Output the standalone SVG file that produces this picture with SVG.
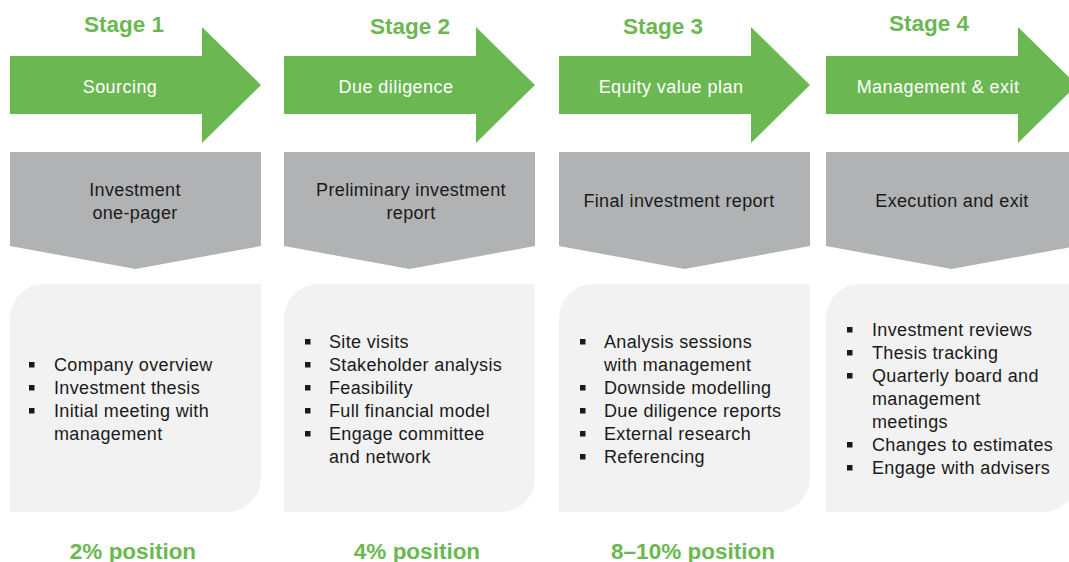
<svg xmlns="http://www.w3.org/2000/svg" width="1069" height="562" viewBox="0 0 1069 562">
<defs>
<style>
.arrow{fill:#6BB852}
.tab{fill:#B1B2B4}
.box{fill:#F2F2F2}
.stage{font-family:"Liberation Sans",Arial,sans-serif;font-weight:bold;font-size:22.5px;fill:#6BB852;text-anchor:middle}
.alab{font-family:"Liberation Sans",Arial,sans-serif;font-size:18px;letter-spacing:0.45px;fill:#FFFFFF;text-anchor:middle}
.tlab{font-family:"Liberation Sans",Arial,sans-serif;font-size:18px;letter-spacing:0.35px;fill:#1A1A1A;text-anchor:middle}
.item{font-family:"Liberation Sans",Arial,sans-serif;font-size:18px;letter-spacing:0.35px;fill:#1A1A1A}
.blt{fill:#1A1A1A}
.pos{font-family:"Liberation Sans",Arial,sans-serif;font-weight:bold;font-size:22.5px;fill:#6BB852;text-anchor:middle}
</style>
<path id="arr" d="M0,56 H192 V27 L251,85 L192,143 V114 H0 Z"/>
<path id="tabshape" d="M0,152 H251 V246 L125.5,269 L0,246 Z"/>
<path id="boxshape" d="M34,284 H251 V478 A34,34 0 0 1 217,512 H0 V318 A34,34 0 0 1 34,284 Z"/>
<rect id="sq" width="5.5" height="5.5"/>
</defs>

<g id="stage1" transform="translate(10,0)">
<use href="#arr" class="arrow"/>
<use href="#tabshape" class="tab"/>
<use href="#boxshape" class="box"/>
</g>
<g id="stage2" transform="translate(284,0)">
<use href="#arr" class="arrow"/>
<use href="#tabshape" class="tab"/>
<use href="#boxshape" class="box"/>
</g>
<g id="stage3" transform="translate(559,0)">
<use href="#arr" class="arrow"/>
<use href="#tabshape" class="tab"/>
<use href="#boxshape" class="box"/>
</g>
<g id="stage4" transform="translate(826,0)">
<use href="#arr" class="arrow"/>
<use href="#tabshape" class="tab"/>
<use href="#boxshape" class="box"/>
</g>

<g id="labels-stage">
<text class="stage" x="124" y="32">Stage 1</text>
<text class="stage" x="410" y="34">Stage 2</text>
<text class="stage" x="663" y="34">Stage 3</text>
<text class="stage" x="929" y="31">Stage 4</text>
</g>

<g id="labels-arrow">
<text class="alab" x="120" y="93">Sourcing</text>
<text class="alab" x="396" y="93">Due diligence</text>
<text class="alab" x="671" y="93">Equity value plan</text>
<text class="alab" x="938" y="93">Management &amp; exit</text>
</g>

<g id="labels-tab">
<text class="tlab" x="135" y="196">Investment</text>
<text class="tlab" x="135" y="219">one-pager</text>
<text class="tlab" x="411" y="196">Preliminary investment</text>
<text class="tlab" x="411" y="219">report</text>
<text class="tlab" x="679" y="207">Final investment report</text>
<text class="tlab" x="952" y="207">Execution and exit</text>
</g>

<g id="list1">
<use href="#sq" class="blt" x="29" y="362"/>
<use href="#sq" class="blt" x="29" y="385"/>
<use href="#sq" class="blt" x="29" y="408"/>
<text class="item" x="54" y="371">Company overview</text>
<text class="item" x="54" y="394">Investment thesis</text>
<text class="item" x="54" y="417">Initial meeting with</text>
<text class="item" x="54" y="440">management</text>
</g>

<g id="list2">
<use href="#sq" class="blt" x="305" y="339"/>
<use href="#sq" class="blt" x="305" y="362"/>
<use href="#sq" class="blt" x="305" y="385"/>
<use href="#sq" class="blt" x="305" y="408"/>
<use href="#sq" class="blt" x="305" y="431"/>
<text class="item" x="329" y="348">Site visits</text>
<text class="item" x="329" y="371">Stakeholder analysis</text>
<text class="item" x="329" y="394">Feasibility</text>
<text class="item" x="329" y="417">Full financial model</text>
<text class="item" x="329" y="440">Engage committee</text>
<text class="item" x="329" y="463">and network</text>
</g>

<g id="list3">
<use href="#sq" class="blt" x="580" y="339"/>
<use href="#sq" class="blt" x="580" y="385"/>
<use href="#sq" class="blt" x="580" y="408"/>
<use href="#sq" class="blt" x="580" y="431"/>
<use href="#sq" class="blt" x="580" y="454"/>
<text class="item" x="604" y="348">Analysis sessions</text>
<text class="item" x="604" y="371">with management</text>
<text class="item" x="604" y="394">Downside modelling</text>
<text class="item" x="604" y="417">Due diligence reports</text>
<text class="item" x="604" y="440">External research</text>
<text class="item" x="604" y="463">Referencing</text>
</g>

<g id="list4">
<use href="#sq" class="blt" x="847" y="327"/>
<use href="#sq" class="blt" x="847" y="350"/>
<use href="#sq" class="blt" x="847" y="373"/>
<use href="#sq" class="blt" x="847" y="442"/>
<use href="#sq" class="blt" x="847" y="465"/>
<text class="item" x="872" y="336">Investment reviews</text>
<text class="item" x="872" y="359">Thesis tracking</text>
<text class="item" x="872" y="382">Quarterly board and</text>
<text class="item" x="872" y="405">management</text>
<text class="item" x="872" y="428">meetings</text>
<text class="item" x="872" y="451">Changes to estimates</text>
<text class="item" x="872" y="474">Engage with advisers</text>
</g>

<g id="labels-position">
<text class="pos" x="133" y="559">2% position</text>
<text class="pos" x="417" y="559">4% position</text>
<text class="pos" x="693" y="559">8–10% position</text>
</g>

<g id="connectors"></g>
</svg>
